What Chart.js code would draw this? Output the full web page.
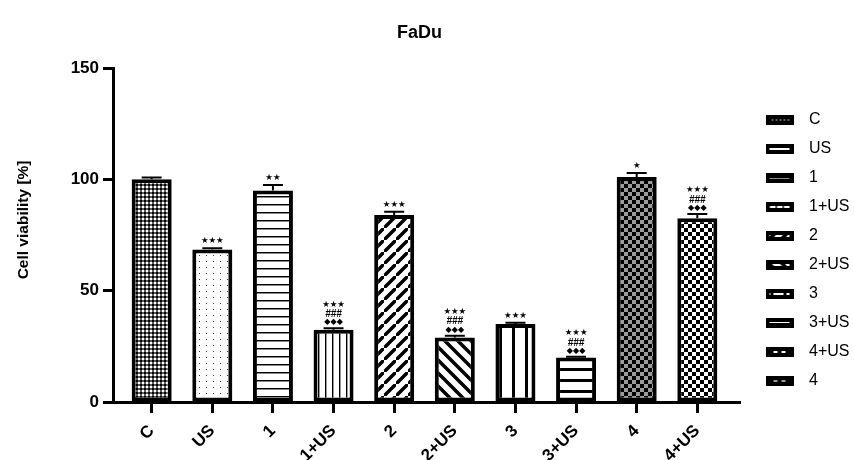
<!DOCTYPE html>
<html>
<head>
<meta charset="utf-8">
<script src="https://cdn.jsdelivr.net/npm/chart.js@4.4.1/dist/chart.umd.min.js"></script>
<style>
  html, body { margin: 0; padding: 0; background: #fff; }
  #wrap { width: 854px; height: 460px; }
</style>
</head>
<body>
<div id="wrap"><canvas id="chart" width="854" height="460"></canvas></div>
<script>
// Groups along the x axis
const categories = ['C', 'US', '1', '1+US', '2', '2+US', '3', '3+US', '4', '4+US'];
// Mean cell viability (%) and error (upper bar only)
const viability = [100, 68.5, 95, 32.5, 84, 29, 35, 20, 101, 82.5];
const errors = [0.8, 0.6, 2.5, 0.6, 1.4, 0.8, 0.6, 0.3, 1.8, 1.9];
// Significance marks stacked above each bar
const starMarks = ['', '★★★', '★★', '★★★', '★★★', '★★★', '★★★', '★★★', '★', '★★★'];
const hashMarks = ['', '', '', '###', '', '###', '', '###', '', '###'];
const diamondMarks = ['', '', '', '◆◆◆', '', '◆◆◆', '', '◆◆◆', '', '◆◆◆'];
// Legend entries, in the order they are listed
const legendOrder = ['C', 'US', '1', '1+US', '2', '2+US', '3', '3+US', '4+US', '4'];
const yTicks = [0, 50, 100, 150];

const FONT = "'Liberation Sans', Arial, Helvetica, sans-serif";
Chart.defaults.font.family = FONT;
Chart.defaults.color = '#000';

// ---- fill patterns -------------------------------------------------------
function tile(w, h, paint) {
  const c = document.createElement('canvas');
  c.width = w; c.height = h;
  const g = c.getContext('2d');
  g.fillStyle = '#fff';
  g.fillRect(0, 0, w, h);
  paint(g, w, h);
  return c;
}
function diagonal(s, lw, rising) {
  return tile(s, s, (g) => {
    g.strokeStyle = '#000';
    g.lineWidth = lw;
    g.beginPath();
    if (rising) {
      g.moveTo(-s, s * 2); g.lineTo(s * 2, -s);
      g.moveTo(-s * 2, s); g.lineTo(s, -s * 2);
      g.moveTo(0, s * 3); g.lineTo(s * 3, 0);
    } else {
      g.moveTo(-s, -s); g.lineTo(s * 2, s * 2);
      g.moveTo(0, -s); g.lineTo(s * 2, s);
      g.moveTo(-s, 0); g.lineTo(s, s * 2);
    }
    g.stroke();
  });
}
function checker(cell, dark, light) {
  return tile(cell * 2, cell * 2, (g) => {
    g.fillStyle = light; g.fillRect(0, 0, cell * 2, cell * 2);
    g.fillStyle = dark;
    g.fillRect(0, 0, cell, cell);
    g.fillRect(cell, cell, cell, cell);
  });
}
const tiles = {
  'C': tile(4, 4, (g) => {
    g.fillStyle = '#5e5e5e'; g.fillRect(0, 0, 4, 4);
    g.fillStyle = '#000'; g.fillRect(0, 0, 2, 2);
    g.fillStyle = '#fff'; g.fillRect(2, 2, 2, 2);
  }),
  'US': tile(7, 6, (g) => { g.fillStyle = '#444'; g.fillRect(3, 3, 1, 1); }),
  '1': tile(8, 8, (g) => {
    g.fillStyle = '#000'; g.fillRect(0, 4, 8, 1);
    g.fillStyle = '#888'; g.fillRect(0, 5, 8, 1);
  }),
  '1+US': tile(7, 7, (g) => {
    g.fillStyle = '#000'; g.fillRect(3, 0, 1, 7);
    g.fillStyle = '#999'; g.fillRect(4, 0, 1, 7);
  }),
  '2': diagonal(12, 3.5, true),
  '2+US': diagonal(13, 3.5, false),
  '3': tile(13, 4, (g) => { g.fillStyle = '#000'; g.fillRect(5, 0, 3, 4); }),
  '3+US': tile(4, 11, (g) => { g.fillStyle = '#000'; g.fillRect(0, 5, 4, 3); }),
  '4': checker(4, '#000', '#9a9a9a'),
  '4+US': checker(4, '#000', '#fff')
};
const probe = document.createElement('canvas').getContext('2d');
const patterns = {};
for (const k of Object.keys(tiles)) patterns[k] = probe.createPattern(tiles[k], 'repeat');

// small legend swatches: thick black frame with the fill inside
function swatch(name) {
  const c = document.createElement('canvas');
  c.width = 28; c.height = 10;
  const g = c.getContext('2d');
  g.fillStyle = '#000';
  g.fillRect(0, 0, 28, 10);
  g.fillStyle = g.createPattern(tiles[name], 'repeat');
  g.fillRect(4, 4, 20, 2);
  return c;
}
const swatches = {};
for (const k of legendOrder) swatches[k] = swatch(k);

// ---- error bars and significance marks -----------------------------------
const marksPlugin = {
  id: 'errorsAndMarks',
  afterDatasetsDraw(chart) {
    const { ctx } = chart;
    const x = chart.scales.x, y = chart.scales.y;
    ctx.save();
    ctx.strokeStyle = '#000';
    ctx.fillStyle = '#000';
    ctx.lineWidth = 2;
    ctx.textAlign = 'center';
    ctx.textBaseline = 'middle';
    categories.forEach((c, i) => {
      const px = x.getPixelForValue(i);
      const base = y.getPixelForValue(viability[i]);
      const top = y.getPixelForValue(viability[i] + errors[i]);
      ctx.beginPath();
      ctx.moveTo(px, base);
      ctx.lineTo(px, top);
      ctx.moveTo(px - 10, top);
      ctx.lineTo(px + 10, top);
      ctx.stroke();

      let my = top - 6;
      if (diamondMarks[i]) {
        ctx.font = "8px 'DejaVu Sans'";
        ctx.fillText(diamondMarks[i], px, my);
        my -= 8;
      }
      if (hashMarks[i]) {
        ctx.font = "italic bold 10px " + FONT;
        ctx.fillText(hashMarks[i], px, my);
        my -= 9;
      }
      if (starMarks[i]) {
        ctx.font = "8.5px 'DejaVu Sans'";
        ctx.fillText(starMarks[i], px, my - 1);
      }
    });
    ctx.restore();
  }
};

new Chart(document.getElementById('chart'), {
  type: 'bar',
  data: {
    datasets: [{
      label: 'Cell viability',
      data: categories.map((c, i) => ({ x: i, y: viability[i] })),
      backgroundColor: categories.map((c) => patterns[c]),
      borderColor: '#000',
      borderWidth: 4,
      borderSkipped: false,
      barPercentage: 0.66,
      categoryPercentage: 1
    }]
  },
  options: {
    responsive: false,
    animation: false,
    devicePixelRatio: 1,
    layout: { padding: { left: 0, right: 0, top: 0, bottom: 0 } },
    scales: {
      x: {
        type: 'linear',
        min: -0.638,
        max: 9.704,
        offset: false,
        grid: { display: true, offset: false, drawOnChartArea: false, drawTicks: true, tickLength: 11, tickWidth: 3, tickColor: '#000' },
        border: { display: true, color: '#000', width: 3 },
        ticks: {
          stepSize: 1,
          includeBounds: false,
          autoSkip: false,
          maxRotation: 45,
          minRotation: 45,
          padding: 8,
          color: '#000',
          font: { size: 17, weight: 'bold' },
          callback: (v) => categories[v]
        },
        afterBuildTicks: (s) => {
          s.ticks = s.ticks.filter((t) => Number.isInteger(t.value) && t.value >= 0 && t.value < categories.length);
        },
        afterFit: (s) => { s.height = 58; }
      },
      y: {
        min: 0,
        max: 150,
        afterBuildTicks: (s) => { s.ticks = yTicks.map((v) => ({ value: v })); },
        grid: { display: true, drawOnChartArea: false, drawTicks: true, tickLength: 10, tickWidth: 3, tickColor: '#000' },
        border: { display: true, color: '#000', width: 3 },
        ticks: { padding: 4, color: '#000', font: { size: 17, weight: 'bold' } },
        title: {
          display: true,
          text: '       Cell viability [%]',
          color: '#000',
          font: { size: 15.5, weight: 'bold' },
          padding: { top: 14, bottom: 0 }
        },
        afterFit: (s) => { s.width = 113; }
      },
      y2: {
        position: 'right',
        display: true,
        grid: { display: false },
        border: { display: false },
        ticks: { display: false },
        afterFit: (s) => { s.width = 5; }
      }
    },
    plugins: {
      title: {
        display: true,
        text: 'FaDu   ',
        color: '#000',
        font: { size: 18, weight: 'bold' },
        padding: { top: 22, bottom: 24.4 }
      },
      legend: {
        position: 'right',
        align: 'end',
        fullSize: false,
        maxWidth: 109,
        onClick: () => {},
        labels: {
          usePointStyle: true,
          pointStyleWidth: 43,
          boxHeight: 10,
          padding: 13,
          color: '#000',
          font: { size: 16 },
          generateLabels: () => legendOrder.map((name) => ({
            text: name,
            pointStyle: swatches[name],
            fillStyle: '#000',
            strokeStyle: '#000',
            lineWidth: 0,
            hidden: false,
            fontColor: '#000'
          }))
        }
      },
      tooltip: { enabled: false }
    }
  },
  plugins: [marksPlugin]
});
</script>
</body>
</html>
